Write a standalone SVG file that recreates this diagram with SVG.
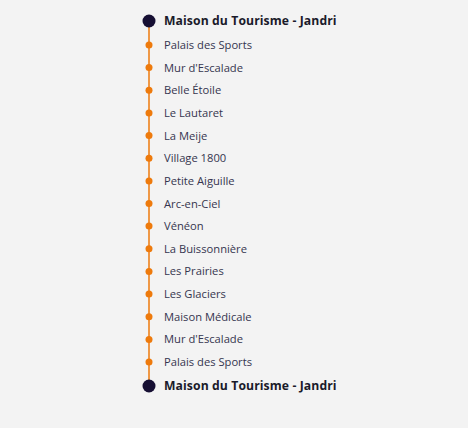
<svg xmlns="http://www.w3.org/2000/svg" width="468" height="428" viewBox="0 0 468 428">
<style>
.stop{fill:#ee7a0c}
.term{fill:#160f33}
.lbl{font-family:"Open Sans","Lato",sans-serif;font-size:11.2px;fill:#35354f}
.ttl{font-family:"Open Sans","Lato",sans-serif;font-size:12.2px;font-weight:bold;fill:#1a1a2a;letter-spacing:0.1px}
</style>
<rect width="468" height="428" fill="#f3f3f3"/>
<g id="connectors">
<line x1="149" y1="21" x2="149" y2="386" stroke="#ee7a0c" stroke-width="1.5"/>
</g>
<g id="n0"><circle class="term" cx="149" cy="21" r="6.5"/><text class="ttl" x="164" y="25.4">Maison du Tourisme - Jandri</text></g>
<g id="n1"><circle class="stop" cx="149" cy="45" r="3.5"/><text class="lbl" x="164" y="49">Palais des Sports</text></g>
<g id="n2"><circle class="stop" cx="149" cy="67.6" r="3.5"/><text class="lbl" x="164" y="71.6">Mur d'Escalade</text></g>
<g id="n3"><circle class="stop" cx="149" cy="90.3" r="3.5"/><text class="lbl" x="164" y="94.3">Belle Étoile</text></g>
<g id="n4"><circle class="stop" cx="149" cy="112.9" r="3.5"/><text class="lbl" x="164" y="116.9">Le Lautaret</text></g>
<g id="n5"><circle class="stop" cx="149" cy="135.6" r="3.5"/><text class="lbl" x="164" y="139.6">La Meije</text></g>
<g id="n6"><circle class="stop" cx="149" cy="158.2" r="3.5"/><text class="lbl" x="164" y="162.2">Village 1800</text></g>
<g id="n7"><circle class="stop" cx="149" cy="180.9" r="3.5"/><text class="lbl" x="164" y="184.9">Petite Aiguille</text></g>
<g id="n8"><circle class="stop" cx="149" cy="203.5" r="3.5"/><text class="lbl" x="164" y="207.5">Arc-en-Ciel</text></g>
<g id="n9"><circle class="stop" cx="149" cy="226.1" r="3.5"/><text class="lbl" x="164" y="230.1">Vénéon</text></g>
<g id="n10"><circle class="stop" cx="149" cy="248.8" r="3.5"/><text class="lbl" x="164" y="252.8">La Buissonnière</text></g>
<g id="n11"><circle class="stop" cx="149" cy="271.4" r="3.5"/><text class="lbl" x="164" y="275.4">Les Prairies</text></g>
<g id="n12"><circle class="stop" cx="149" cy="294.1" r="3.5"/><text class="lbl" x="164" y="298.1">Les Glaciers</text></g>
<g id="n13"><circle class="stop" cx="149" cy="316.7" r="3.5"/><text class="lbl" x="164" y="320.7">Maison Médicale</text></g>
<g id="n14"><circle class="stop" cx="149" cy="339.4" r="3.5"/><text class="lbl" x="164" y="343.4">Mur d'Escalade</text></g>
<g id="n15"><circle class="stop" cx="149" cy="362" r="3.5"/><text class="lbl" x="164" y="366">Palais des Sports</text></g>
<g id="n16"><circle class="term" cx="149" cy="386" r="6.5"/><text class="ttl" x="164" y="390.4">Maison du Tourisme - Jandri</text></g>
</svg>
